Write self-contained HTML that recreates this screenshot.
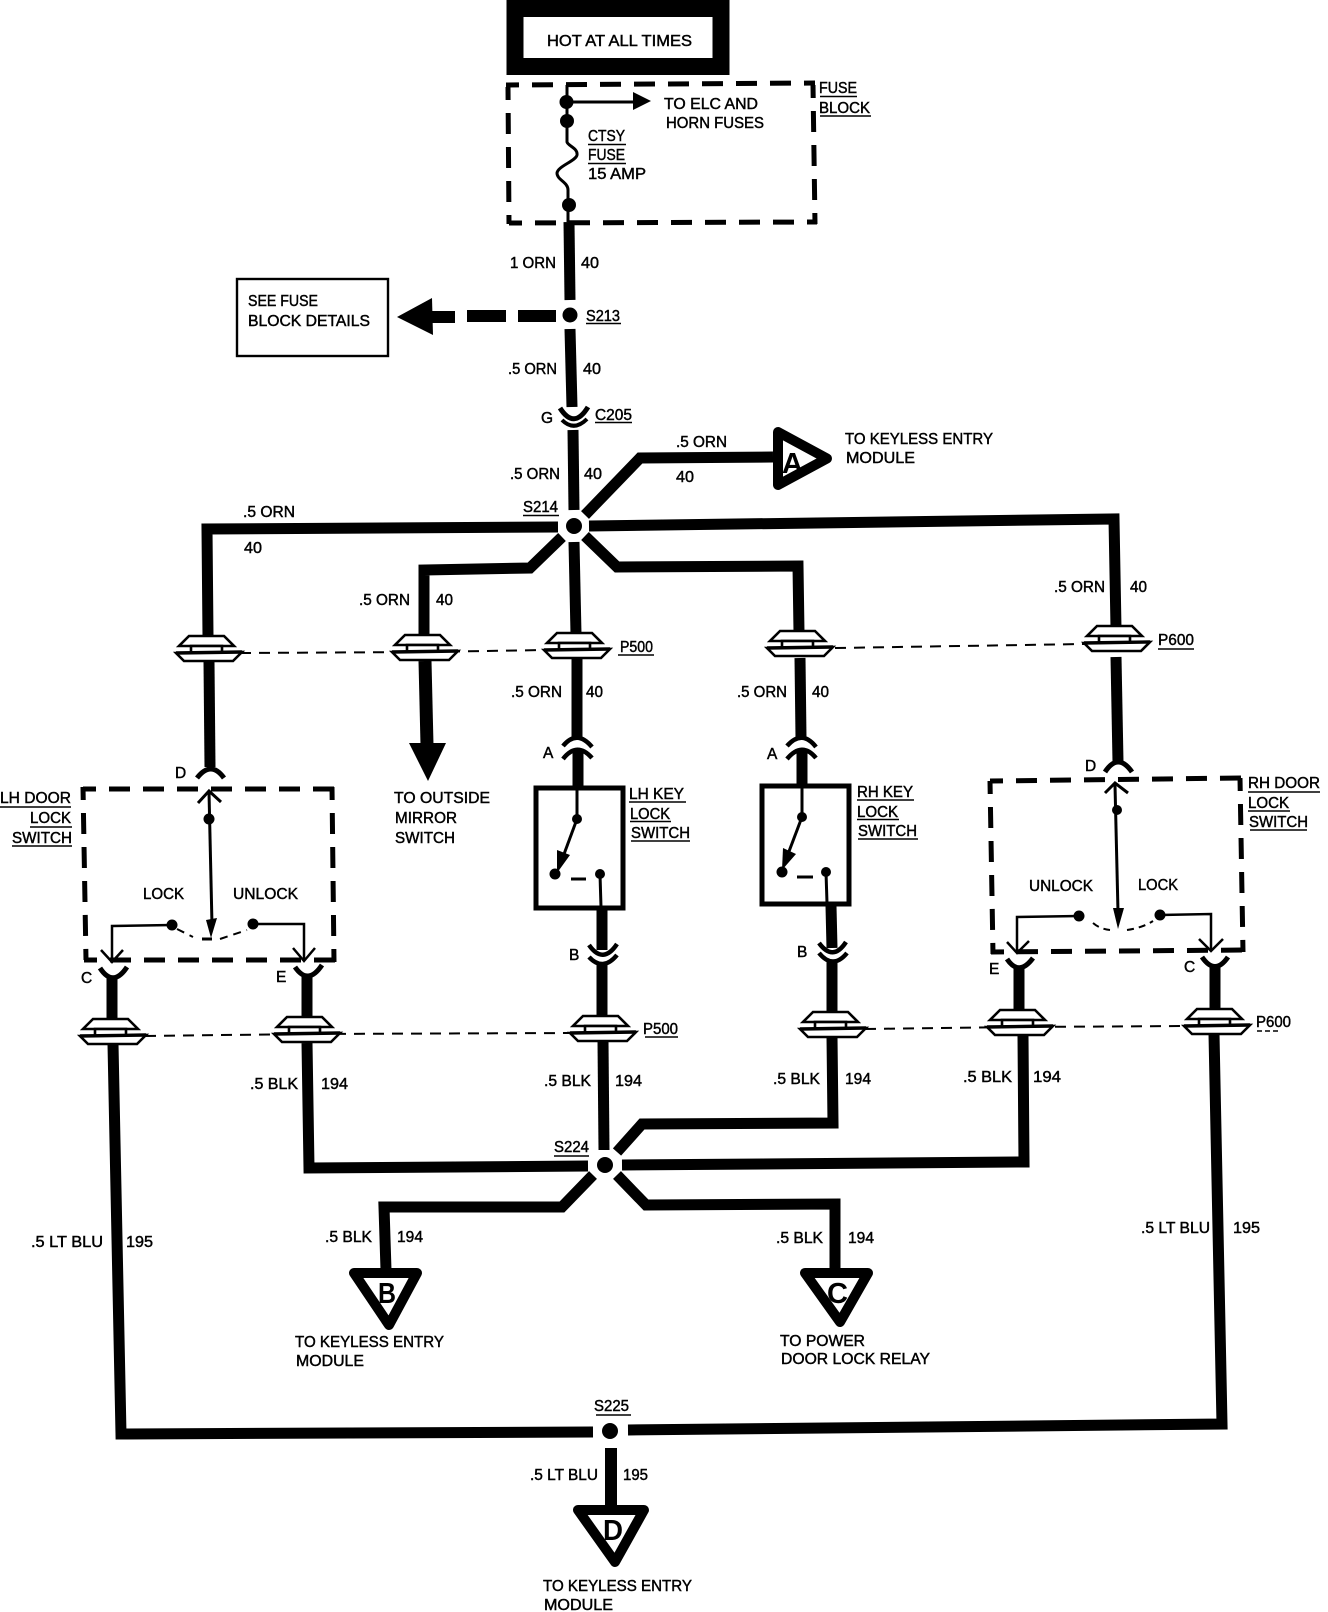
<!DOCTYPE html>
<html><head><meta charset="utf-8"><style>
html,body{margin:0;padding:0;background:#fff}
svg{display:block}
text{font-family:"Liberation Sans",sans-serif;font-size:15.5px;fill:#000;stroke:#000;stroke-width:.45}
.w{fill:none;stroke:#000;stroke-width:11;stroke-linejoin:miter}
.n{fill:none;stroke:#000;stroke-width:3}
.d{fill:none;stroke:#000;stroke-width:5;stroke-dasharray:21 13;stroke-dashoffset:8}
.l{fill:none;stroke:#000;stroke-width:2;stroke-dasharray:11 8}
.u{stroke:#000;stroke-width:1.5}
.t{fill:#fff;stroke:#000;stroke-width:10;stroke-linejoin:round}
.b{font-weight:bold;font-size:29px;stroke:none}
</style></head><body>
<svg width="1328" height="1612" viewBox="0 0 1328 1612" xmlns="http://www.w3.org/2000/svg">
<defs>
<g id="pc">
<polygon points="-20,-17 15,-17 25,-7 -30,-7" fill="#fff" stroke="#000" stroke-width="2.6"/>
<rect x="-18" y="-7" width="31" height="7" fill="#fff" stroke="#000" stroke-width="2.6"/>
<polygon points="-33,0 33,-1 24,8 -25,8" fill="#fff" stroke="#000" stroke-width="2.6"/>
<line x1="-33" y1="0" x2="33" y2="-1" stroke="#000" stroke-width="3.4"/>
</g>
</defs>

<!-- HOT box -->
<rect x="515" y="8.500" width="206" height="58" fill="#fff" stroke="#000" stroke-width="17"/>
<text x="547" y="46" textLength="145" lengthAdjust="spacingAndGlyphs">HOT AT ALL TIMES</text>

<!-- Fuse block -->
<line class="d" x1="506" y1="85" x2="815" y2="83"/>
<line class="d" x1="508" y1="87" x2="509" y2="224"/>
<line class="d" x1="813" y1="85" x2="815" y2="224"/>
<line class="d" x1="509" y1="223" x2="817" y2="222"/>
<path class="n" d="M567 85V142C568 146 578 148 577 155C576 161 558 166 557 173C557 180 568 182 568 190V222"/>
<circle cx="566.500" cy="102" r="7"/><circle cx="567" cy="121" r="7"/><circle cx="569" cy="205" r="7"/>
<line class="n" x1="567" y1="102" x2="636" y2="102"/>
<polygon points="633,92 651,101 633,110"/>
<text x="664" y="109" textLength="94" lengthAdjust="spacingAndGlyphs">TO ELC AND</text>
<text x="666" y="128" textLength="98" lengthAdjust="spacingAndGlyphs">HORN FUSES</text>
<text x="588" y="141" textLength="37" lengthAdjust="spacingAndGlyphs">CTSY</text><line class="u" x1="588" y1="144.500" x2="626" y2="144.500"/>
<text x="588" y="160" textLength="37" lengthAdjust="spacingAndGlyphs">FUSE</text><line class="u" x1="588" y1="163.500" x2="626" y2="163.500"/>
<text x="588" y="179" textLength="58" lengthAdjust="spacingAndGlyphs">15 AMP</text>
<text x="819" y="93" textLength="38" lengthAdjust="spacingAndGlyphs">FUSE</text><line class="u" x1="820" y1="96.500" x2="857" y2="96.500"/>
<text x="819" y="113" textLength="51" lengthAdjust="spacingAndGlyphs">BLOCK</text><line class="u" x1="820" y1="116" x2="871" y2="116"/>

<!-- Upper wires -->
<polyline class="w" points="569,222 570,300"/>
<circle cx="570" cy="315" r="7.500"/>
<polyline class="w" points="570,329 572,407"/>
<polyline class="w" points="573,430 574,510"/>
<path d="M560 408Q574 430 588 407" fill="none" stroke="#000" stroke-width="5"/>
<path d="M562 420Q574 432 587 419" fill="none" stroke="#000" stroke-width="4"/>
<line x1="518" y1="316" x2="556" y2="316" stroke="#000" stroke-width="12"/>
<line x1="467" y1="316" x2="506" y2="316" stroke="#000" stroke-width="12"/>
<line x1="430" y1="317" x2="455" y2="317" stroke="#000" stroke-width="12"/>
<polygon points="397,317 432,298 433,335"/>
<rect x="237" y="279" width="151" height="77" fill="#fff" stroke="#000" stroke-width="2.400"/>
<text x="248" y="306" textLength="70" lengthAdjust="spacingAndGlyphs">SEE FUSE</text>
<text x="248" y="326" textLength="122" lengthAdjust="spacingAndGlyphs">BLOCK DETAILS</text>
<text x="510" y="268" textLength="46" lengthAdjust="spacingAndGlyphs">1 ORN</text><text x="581" y="268" textLength="18" lengthAdjust="spacingAndGlyphs">40</text>
<text x="586" y="321" textLength="34" lengthAdjust="spacingAndGlyphs">S213</text><line class="u" x1="586" y1="323.500" x2="621" y2="323.500"/>
<text x="508" y="374" textLength="49" lengthAdjust="spacingAndGlyphs">.5 ORN</text><text x="583" y="374" textLength="18" lengthAdjust="spacingAndGlyphs">40</text>
<text x="541" y="423">G</text>
<text x="595" y="420" textLength="37" lengthAdjust="spacingAndGlyphs">C205</text><line class="u" x1="595" y1="422.500" x2="632" y2="422.500"/>
<text x="510" y="479" textLength="50" lengthAdjust="spacingAndGlyphs">.5 ORN</text><text x="584" y="479" textLength="18" lengthAdjust="spacingAndGlyphs">40</text>
<text x="523" y="512" textLength="35" lengthAdjust="spacingAndGlyphs">S214</text><line class="u" x1="523" y1="515.500" x2="559" y2="515.500"/>

<!-- S214 -->
<circle cx="574" cy="526" r="8"/>
<polyline class="w" points="558,527 207,529 208,636"/>
<polyline class="w" points="562,537 530,568 424,570 424,636" stroke-width="10"/>
<polyline class="w" points="574,542 576,634"/>
<polyline class="w" points="585,536 617,567 798,566 799,632" stroke-width="10"/>
<polyline class="w" points="589,526 1114,519 1116,628"/>
<polyline class="w" points="585,515 640,458 773,457"/>
<polygon class="t" points="778,432 827,458.500 778,485"/>
<text class="b" x="782" y="473" textLength="21" lengthAdjust="spacingAndGlyphs">A</text>
<text x="845" y="444" textLength="148" lengthAdjust="spacingAndGlyphs">TO KEYLESS ENTRY</text>
<text x="846" y="463" textLength="69" lengthAdjust="spacingAndGlyphs">MODULE</text>
<text x="676" y="447" textLength="51" lengthAdjust="spacingAndGlyphs">.5 ORN</text><text x="676" y="482" textLength="18" lengthAdjust="spacingAndGlyphs">40</text>
<text x="243" y="517" textLength="52" lengthAdjust="spacingAndGlyphs">.5 ORN</text><text x="244" y="553" textLength="18" lengthAdjust="spacingAndGlyphs">40</text>
<text x="359" y="605" textLength="51" lengthAdjust="spacingAndGlyphs">.5 ORN</text><text x="436" y="605" textLength="17" lengthAdjust="spacingAndGlyphs">40</text>
<text x="1054" y="592" textLength="51" lengthAdjust="spacingAndGlyphs">.5 ORN</text><text x="1130" y="592" textLength="17" lengthAdjust="spacingAndGlyphs">40</text>

<!-- Top connector row -->
<polyline class="l" points="240,653 424,652 545,650"/>
<polyline class="l" points="835,648 1085,644"/>
<use href="#pc" x="209" y="653"/>
<use href="#pc" x="425" y="652"/>
<use href="#pc" x="577" y="650"/>
<use href="#pc" x="800" y="648"/>
<use href="#pc" x="1117" y="643"/>
<text x="620" y="652" textLength="33" lengthAdjust="spacingAndGlyphs">P500</text><line class="u" x1="618" y1="655" x2="654" y2="655"/>
<text x="1158" y="645" textLength="36" lengthAdjust="spacingAndGlyphs">P600</text><line class="u" x1="1158" y1="649" x2="1194" y2="649"/>

<!-- LH door -->
<polyline class="w" points="209,662 210,767"/>
<path d="M197 778Q211 760 224 778" fill="none" stroke="#000" stroke-width="5"/>
<text x="175" y="778">D</text>
<polyline class="w" points="425,661 427,745" style="stroke-width:13"/>
<polygon points="409,743 446,743 428,781"/>
<text x="394" y="803" textLength="96" lengthAdjust="spacingAndGlyphs">TO OUTSIDE</text>
<text x="395" y="823" textLength="62" lengthAdjust="spacingAndGlyphs">MIRROR</text>
<text x="395" y="843" textLength="60" lengthAdjust="spacingAndGlyphs">SWITCH</text>
<line class="d" x1="83" y1="789" x2="335" y2="789"/>
<line class="d" x1="83" y1="787" x2="86" y2="960"/>
<line class="d" x1="332" y1="787" x2="334" y2="962"/>
<line class="d" x1="84" y1="960" x2="336" y2="960"/>
<line class="n" x1="209" y1="792" x2="212" y2="925"/>
<polyline class="n" points="198,803 209,791 221,802"/>
<circle cx="209" cy="819" r="5.500"/>
<polygon points="206,920 217,918 211,938"/>
<line class="n" x1="202" y1="939" x2="212" y2="939"/>
<circle cx="172" cy="925" r="5.500"/><circle cx="253" cy="924" r="5.500"/>
<polyline class="n" points="172,925 112,926 112,962" style="stroke-width:2.5"/>
<polyline class="n" points="253,924 304,924 304,960" style="stroke-width:2.5"/>
<polyline class="n" points="101,950 112,962 123,950" style="stroke-width:2.5"/>
<polyline class="n" points="293,948 304,961 315,948" style="stroke-width:2.5"/>
<path d="M177 929L193 937M220 939L247 930" fill="none" stroke="#000" stroke-width="2" stroke-dasharray="8 6"/>
<text x="143" y="899" textLength="41" lengthAdjust="spacingAndGlyphs">LOCK</text>
<text x="233" y="899" textLength="65" lengthAdjust="spacingAndGlyphs">UNLOCK</text>
<text x="0" y="803" textLength="71" lengthAdjust="spacingAndGlyphs">LH DOOR</text><line class="u" x1="0" y1="807" x2="71" y2="807"/>
<text x="30" y="823" textLength="41" lengthAdjust="spacingAndGlyphs">LOCK</text><line class="u" x1="30" y1="827" x2="72" y2="827"/>
<text x="12" y="843" textLength="60" lengthAdjust="spacingAndGlyphs">SWITCH</text><line class="u" x1="12" y1="846" x2="72" y2="846"/>
<text x="81" y="983">C</text>
<text x="276" y="982">E</text>
<path d="M100 968Q113 988 127 967" fill="none" stroke="#000" stroke-width="5"/>
<path d="M295 967Q308 986 322 965" fill="none" stroke="#000" stroke-width="5"/>
<polyline class="w" points="112,976 112,1020"/>
<polyline class="w" points="307,975 307,1018"/>

<!-- LH key -->
<polyline class="w" points="577,658 577,738"/>
<polyline class="w" points="578,750 578,788"/>
<path d="M563 746Q577 729 592 747" fill="none" stroke="#000" stroke-width="4.500"/>
<path d="M563 759Q577 741 592 758" fill="none" stroke="#000" stroke-width="4.500"/>
<rect x="536" y="788" width="87" height="120" fill="#fff" stroke="#000" stroke-width="5"/>
<line class="n" x1="577" y1="790" x2="577" y2="819"/>
<circle cx="577" cy="819" r="5"/>
<line class="n" x1="577" y1="819" x2="560" y2="865"/>
<polygon points="557,850 570,855 557,873"/>
<circle cx="555" cy="874" r="5.500"/><circle cx="600" cy="874" r="5"/>
<line class="n" x1="600" y1="874" x2="601" y2="907"/>
<line class="n" x1="571" y1="879" x2="586" y2="879"/>
<text x="629" y="799" textLength="55" lengthAdjust="spacingAndGlyphs">LH KEY</text><line class="u" x1="629" y1="802" x2="686" y2="802"/>
<text x="630" y="819" textLength="40" lengthAdjust="spacingAndGlyphs">LOCK</text><line class="u" x1="630" y1="821.500" x2="671" y2="821.500"/>
<text x="631" y="838" textLength="59" lengthAdjust="spacingAndGlyphs">SWITCH</text><line class="u" x1="631" y1="841" x2="690" y2="841"/>
<text x="543" y="758">A</text>
<text x="511" y="697" textLength="51" lengthAdjust="spacingAndGlyphs">.5 ORN</text><text x="586" y="697" textLength="17" lengthAdjust="spacingAndGlyphs">40</text>
<polyline class="w" points="602,910 602,950"/>
<polyline class="w" points="602,965 602,1016"/>
<path d="M589 945Q603 965 617 944" fill="none" stroke="#000" stroke-width="4.500"/>
<path d="M589 957Q603 972 617 955" fill="none" stroke="#000" stroke-width="4.500"/>
<text x="569" y="960">B</text>

<!-- RH key -->
<polyline class="w" points="800,658 801,738"/>
<polyline class="w" points="802,750 802,786"/>
<path d="M787 746Q802 729 816 747" fill="none" stroke="#000" stroke-width="4.500"/>
<path d="M787 759Q802 741 816 758" fill="none" stroke="#000" stroke-width="4.500"/>
<rect x="762" y="786" width="87" height="118" fill="#fff" stroke="#000" stroke-width="5"/>
<line class="n" x1="802" y1="788" x2="802" y2="817"/>
<circle cx="802" cy="817" r="5"/>
<line class="n" x1="802" y1="817" x2="785" y2="862"/>
<polygon points="783,848 796,854 782,870"/>
<circle cx="782" cy="872" r="5.500"/><circle cx="826" cy="872" r="5"/>
<line class="n" x1="826" y1="872" x2="827" y2="903"/>
<line class="n" x1="797" y1="877" x2="813" y2="877"/>
<text x="857" y="797" textLength="56" lengthAdjust="spacingAndGlyphs">RH KEY</text><line class="u" x1="857" y1="800" x2="914" y2="800"/>
<text x="857" y="817" textLength="41" lengthAdjust="spacingAndGlyphs">LOCK</text><line class="u" x1="857" y1="819.500" x2="899" y2="819.500"/>
<text x="858" y="836" textLength="59" lengthAdjust="spacingAndGlyphs">SWITCH</text><line class="u" x1="858" y1="839" x2="918" y2="839"/>
<text x="767" y="759">A</text>
<text x="737" y="697" textLength="50" lengthAdjust="spacingAndGlyphs">.5 ORN</text><text x="812" y="697" textLength="17" lengthAdjust="spacingAndGlyphs">40</text>
<polyline class="w" points="831,906 832,948"/>
<polyline class="w" points="832,962 832,1014"/>
<path d="M819 943Q833 962 846 942" fill="none" stroke="#000" stroke-width="4.500"/>
<path d="M819 953Q833 970 847 953" fill="none" stroke="#000" stroke-width="4.500"/>
<text x="797" y="957">B</text>

<!-- RH door -->
<polyline class="w" points="1116,657 1118,762"/>
<path d="M1105 772Q1118 752 1132 772" fill="none" stroke="#000" stroke-width="5"/>
<text x="1085" y="771">D</text>
<line class="d" x1="990" y1="781" x2="1242" y2="778"/>
<line class="d" x1="990" y1="781" x2="993" y2="954"/>
<line class="d" x1="1240" y1="778" x2="1243" y2="952"/>
<line class="d" x1="991" y1="952" x2="1245" y2="950"/>
<line class="n" x1="1115" y1="785" x2="1118" y2="912"/>
<polyline class="n" points="1105,793 1115,783 1128,793"/>
<circle cx="1117" cy="810" r="5"/>
<polygon points="1113,908 1124,908 1118,929"/>
<circle cx="1079" cy="916" r="5.500"/><circle cx="1160" cy="915" r="5.500"/>
<polyline class="n" points="1079,916 1017,917 1017,953" style="stroke-width:2.500"/>
<polyline class="n" points="1160,915 1211,914 1211,951" style="stroke-width:2.500"/>
<polyline class="n" points="1007,942 1017,953 1029,941" style="stroke-width:2.500"/>
<polyline class="n" points="1199,939 1211,951 1223,939" style="stroke-width:2.500"/>
<path d="M1093 923Q1100 929 1110 930M1127 930Q1142 928 1153 921" fill="none" stroke="#000" stroke-width="2" stroke-dasharray="7 5"/>
<text x="1029" y="891" textLength="64" lengthAdjust="spacingAndGlyphs">UNLOCK</text>
<text x="1138" y="890" textLength="40" lengthAdjust="spacingAndGlyphs">LOCK</text>
<text x="1248" y="788" textLength="72" lengthAdjust="spacingAndGlyphs">RH DOOR</text><line class="u" x1="1248" y1="792" x2="1320" y2="792"/>
<text x="1248" y="808" textLength="41" lengthAdjust="spacingAndGlyphs">LOCK</text><line class="u" x1="1248" y1="811" x2="1290" y2="811"/>
<text x="1249" y="827" textLength="59" lengthAdjust="spacingAndGlyphs">SWITCH</text><line class="u" x1="1250" y1="830" x2="1307" y2="830"/>
<text x="989" y="974">E</text>
<text x="1184" y="972">C</text>
<path d="M1007 959Q1019 977 1033 958" fill="none" stroke="#000" stroke-width="5"/>
<path d="M1202 957Q1215 976 1228 957" fill="none" stroke="#000" stroke-width="5"/>
<polyline class="w" points="1019,966 1019,1013"/>
<polyline class="w" points="1215,965 1215,1010"/>

<!-- Lower connector row -->
<polyline class="l" points="145,1036 307,1034 575,1033"/>
<polyline class="l" points="865,1029 1020,1027 1190,1026"/>
<use href="#pc" x="113" y="1036"/>
<use href="#pc" x="307" y="1034"/>
<use href="#pc" x="603" y="1033"/>
<use href="#pc" x="833" y="1029"/>
<use href="#pc" x="1020" y="1027"/>
<use href="#pc" x="1217" y="1026"/>
<text x="643" y="1034" textLength="35" lengthAdjust="spacingAndGlyphs">P500</text><line class="u" x1="645" y1="1037" x2="678" y2="1037"/>
<text x="1256" y="1027" textLength="35" lengthAdjust="spacingAndGlyphs">P600</text><line class="u" x1="1257" y1="1031" x2="1278" y2="1031" stroke-dasharray="5 3"/>

<!-- Lower wires -->
<polyline class="w" points="113,1044 121,1434 593,1432"/>
<polyline class="w" points="628,1430 1222,1424 1214,1034"/>
<polyline class="w" points="307,1043 309,1168 588,1166"/>
<polyline class="w" points="603,1041 604,1150"/>
<polyline class="w" points="617,1152 642,1124 833,1123 832,1037"/>
<polyline class="w" points="622,1165 1024,1162 1023,1036"/>
<polyline class="w" points="593,1175 562,1207 384,1207 386,1270" stroke-width="10"/>
<polyline class="w" points="617,1175 646,1205 835,1204 835,1270"/>
<circle cx="605" cy="1165" r="8"/>
<text x="554" y="1152" textLength="35" lengthAdjust="spacingAndGlyphs">S224</text><line class="u" x1="554" y1="1156" x2="589" y2="1156"/>
<text x="250" y="1089" textLength="48" lengthAdjust="spacingAndGlyphs">.5 BLK</text><text x="321" y="1089" textLength="27" lengthAdjust="spacingAndGlyphs">194</text>
<text x="544" y="1086" textLength="47" lengthAdjust="spacingAndGlyphs">.5 BLK</text><text x="615" y="1086" textLength="27" lengthAdjust="spacingAndGlyphs">194</text>
<text x="773" y="1084" textLength="47" lengthAdjust="spacingAndGlyphs">.5 BLK</text><text x="845" y="1084" textLength="26" lengthAdjust="spacingAndGlyphs">194</text>
<text x="963" y="1082" textLength="49" lengthAdjust="spacingAndGlyphs">.5 BLK</text><text x="1033" y="1082" textLength="28" lengthAdjust="spacingAndGlyphs">194</text>
<text x="325" y="1242" textLength="47" lengthAdjust="spacingAndGlyphs">.5 BLK</text><text x="397" y="1242" textLength="26" lengthAdjust="spacingAndGlyphs">194</text>
<text x="776" y="1243" textLength="47" lengthAdjust="spacingAndGlyphs">.5 BLK</text><text x="848" y="1243" textLength="26" lengthAdjust="spacingAndGlyphs">194</text>
<text x="31" y="1247" textLength="72" lengthAdjust="spacingAndGlyphs">.5 LT BLU</text><text x="126" y="1247" textLength="27" lengthAdjust="spacingAndGlyphs">195</text>
<text x="1141" y="1233" textLength="69" lengthAdjust="spacingAndGlyphs">.5 LT BLU</text><text x="1233" y="1233" textLength="27" lengthAdjust="spacingAndGlyphs">195</text>

<!-- Triangles B, C -->
<polygon class="t" points="354,1273 417,1273 389,1325"/>
<text class="b" x="378" y="1303" textLength="18" lengthAdjust="spacingAndGlyphs">B</text>
<polygon class="t" points="805,1273 868,1273 840,1322"/>
<text class="b" x="827" y="1303" textLength="21" lengthAdjust="spacingAndGlyphs">C</text>
<text x="295" y="1347" textLength="149" lengthAdjust="spacingAndGlyphs">TO KEYLESS ENTRY</text>
<text x="296" y="1366" textLength="68" lengthAdjust="spacingAndGlyphs">MODULE</text>
<text x="780" y="1346" textLength="85" lengthAdjust="spacingAndGlyphs">TO POWER</text>
<text x="781" y="1364" textLength="149" lengthAdjust="spacingAndGlyphs">DOOR LOCK RELAY</text>

<!-- S225 -->
<circle cx="610" cy="1431" r="8"/>
<text x="594" y="1411" textLength="35" lengthAdjust="spacingAndGlyphs">S225</text><line class="u" x1="596" y1="1415" x2="631" y2="1415"/>
<line x1="611" y1="1448" x2="611" y2="1508" stroke="#000" stroke-width="12"/>
<text x="530" y="1480" textLength="68" lengthAdjust="spacingAndGlyphs">.5 LT BLU</text><text x="623" y="1480" textLength="25" lengthAdjust="spacingAndGlyphs">195</text>
<polygon class="t" points="578,1510 644,1510 615,1562"/>
<text class="b" x="603" y="1540" textLength="20" lengthAdjust="spacingAndGlyphs">D</text>
<text x="543" y="1591" textLength="149" lengthAdjust="spacingAndGlyphs">TO KEYLESS ENTRY</text>
<text x="544" y="1610" textLength="69" lengthAdjust="spacingAndGlyphs">MODULE</text>
</svg>
</body></html>
